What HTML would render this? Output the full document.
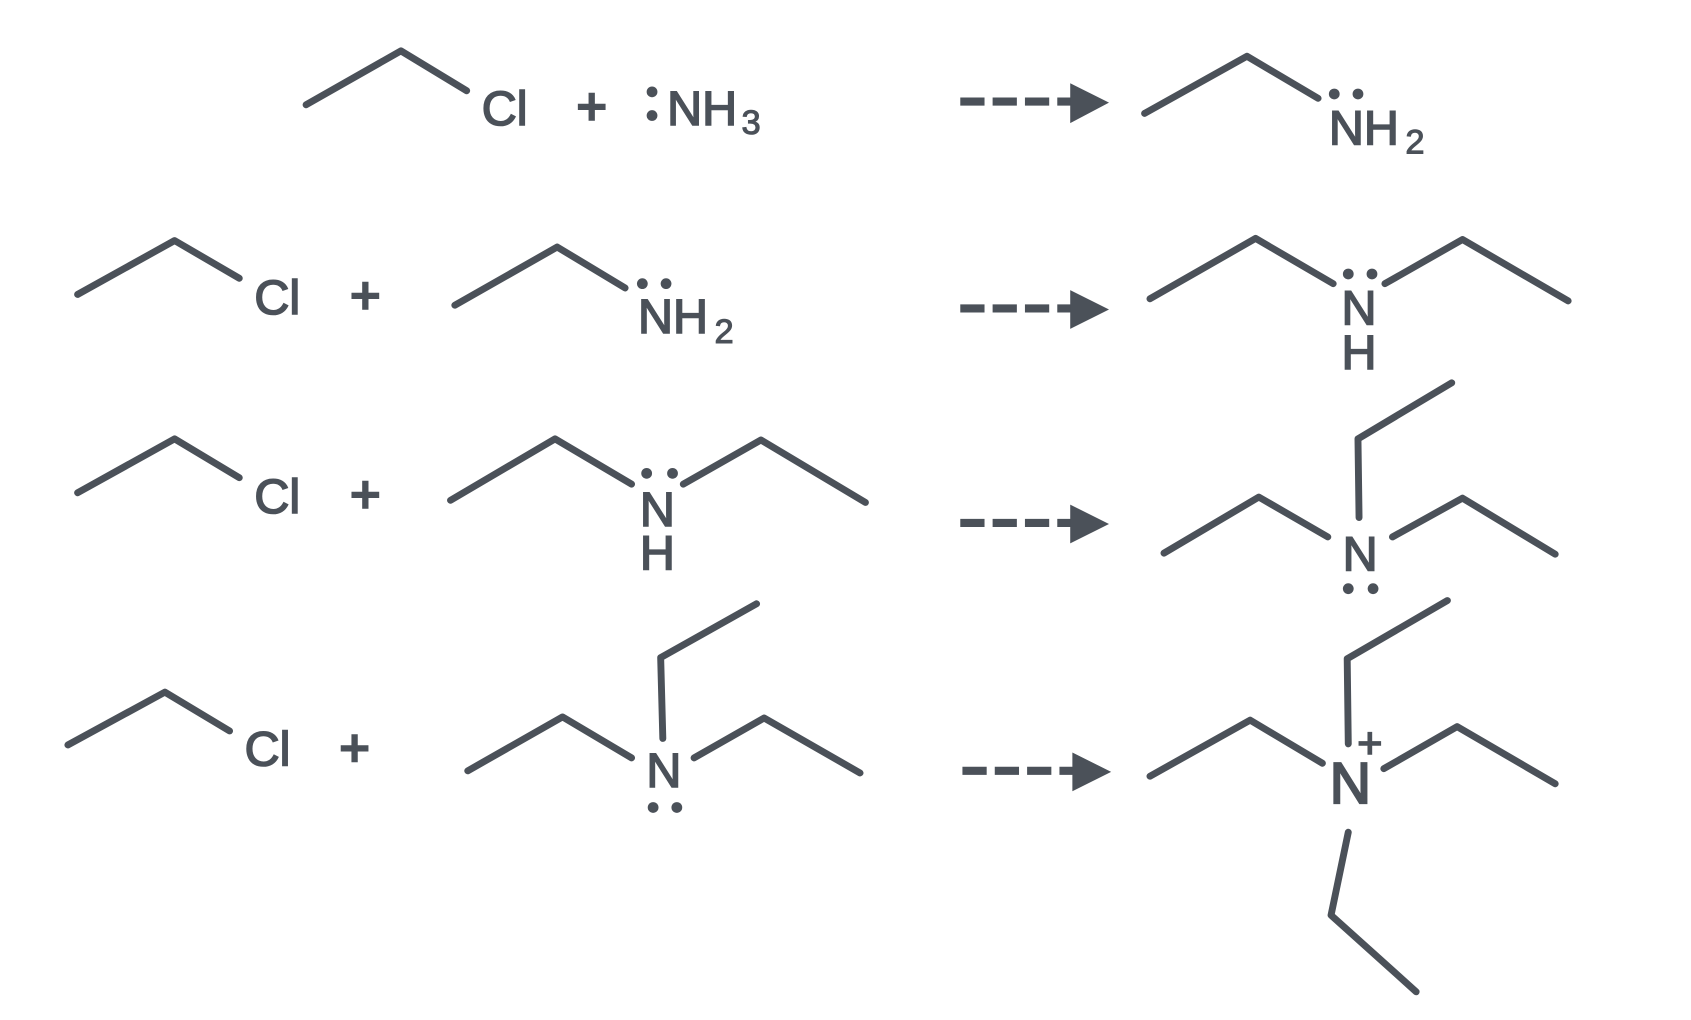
<!DOCTYPE html>
<html><head><meta charset="utf-8"><style>
html,body{margin:0;padding:0;background:#fff;width:1691px;height:1020px;overflow:hidden}
svg{display:block}
.b{fill:none;stroke:#4b5159;stroke-width:6.4;stroke-linecap:round;stroke-linejoin:round}
.d{fill:none;stroke:#4b5159;stroke-width:7.5;stroke-dasharray:22.5 7.5}
.h{fill:#4b5159}
text{font-family:"Liberation Sans",sans-serif;fill:#4b5159;stroke:#4b5159;stroke-width:1.5px;font-size:45px}
.s{font-size:32px;stroke-width:1px}
.p{font-size:48px;stroke-width:2.4px}
.m{text-anchor:middle}
</style></head><body>
<svg width="1691" height="1020" viewBox="0 0 1569 946" xmlns="http://www.w3.org/2000/svg">
<rect width="1569" height="946" fill="#fff"/>
<!-- Row 1 -->
<polyline class="b" points="284,97 372,47 433,84"/>
<text x="447" y="116">Cl</text>
<text class="p m" x="549" y="115">+</text>
<g class="h"><circle cx="605" cy="85" r="5"/><circle cx="605" cy="107" r="5"/></g>
<text x="619" y="116">NH</text><text class="s" x="688" y="124">3</text>
<line class="d" x1="891" y1="94" x2="995" y2="94"/>
<polygon class="h" points="993,77 1029,95 993,114"/>
<polyline class="b" points="1062,105 1157,52 1223,91"/>
<g class="h"><circle cx="1238" cy="87" r="5"/><circle cx="1260" cy="87" r="5"/></g>
<text x="1233" y="134">NH</text><text class="s" x="1304" y="142">2</text>
<!-- Row 2 -->
<polyline class="b" points="72,273 162,223 222,258"/>
<text x="236" y="291">Cl</text>
<text class="p m" x="339" y="290">+</text>
<polyline class="b" points="422,283 517,229 580,267"/>
<g class="h"><circle cx="596" cy="263" r="5"/><circle cx="618" cy="263" r="5"/></g>
<text x="592" y="309">NH</text><text class="s" x="663" y="318">2</text>
<line class="d" x1="891" y1="286" x2="995" y2="286"/>
<polygon class="h" points="993,269 1029,287 993,305"/>
<polyline class="b" points="1067,277 1165,221 1237,263"/>
<polyline class="b" points="1285,263 1357,222 1455,279"/>
<g class="h"><circle cx="1251" cy="254" r="5"/><circle cx="1273" cy="254" r="5"/></g>
<text class="m" x="1261" y="301">N</text>
<text class="m" x="1261" y="342">H</text>
<!-- Row 3 -->
<polyline class="b" points="72,457 162,407 222,443"/>
<text x="236" y="476">Cl</text>
<text class="p m" x="339" y="475">+</text>
<polyline class="b" points="418,464 515,407 586,449"/>
<polyline class="b" points="634,449 706,408 803,466"/>
<g class="h"><circle cx="600" cy="439" r="5"/><circle cx="624" cy="439" r="5"/></g>
<text class="m" x="610" y="488">N</text>
<text class="m" x="610" y="528">H</text>
<line class="d" x1="891" y1="485" x2="995" y2="485"/>
<polygon class="h" points="993,468 1029,486 993,504"/>
<polyline class="b" points="1080,513 1168,461 1232,498"/>
<polyline class="b" points="1292,498 1357,462 1443,514"/>
<polyline class="b" points="1261,480 1260,407 1347,355"/>
<text class="m" x="1262" y="529">N</text>
<g class="h"><circle cx="1251" cy="546" r="5"/><circle cx="1274" cy="546" r="5"/></g>
<!-- Row 4 -->
<polyline class="b" points="63,691 153,642 213,678"/>
<text x="227" y="710">Cl</text>
<text class="p m" x="329" y="710">+</text>
<polyline class="b" points="434,715 522,665 586,703"/>
<polyline class="b" points="644,703 709,666 798,717"/>
<polyline class="b" points="615,685 613,610 702,560"/>
<text class="m" x="616" y="730">N</text>
<g class="h"><circle cx="606" cy="749" r="5"/><circle cx="628" cy="749" r="5"/></g>
<line class="d" x1="893" y1="715" x2="997" y2="715"/>
<polygon class="h" points="995,698 1031,716 995,734"/>
<polyline class="b" points="1067,720 1160,668 1227,708"/>
<polyline class="b" points="1251,690 1250,611 1343,557"/>
<polyline class="b" points="1284,713 1352,674 1443,727"/>
<polyline class="b" points="1251,772 1235,849 1314,920"/>
<text class="m" x="1253" y="745" style="font-size:53px;stroke-width:2px">N</text>
<text class="m" x="1271" y="703" style="font-size:40px;stroke-width:1.5px">+</text>
</svg>
</body></html>
